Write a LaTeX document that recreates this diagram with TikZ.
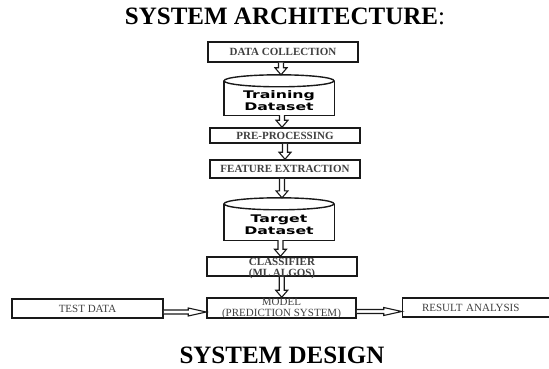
\documentclass[tikz,border=0pt]{standalone}
\usepackage{fontspec}
\setmainfont{Liberation Serif}
\newfontfamily\dbfont[FakeStretch=1.5]{DejaVu Sans Bold}
\usetikzlibrary{calc}

\begin{document}
\begin{tikzpicture}
    [x=1pt,y=-1pt,
     heading/.style={anchor=base,font=\fontsize{25}{30}\selectfont\bfseries},
     box/.style={draw=black!90,line width=1.5pt,inner sep=0pt,minimum width=150pt,
       align=center,text=black!75,font=\fontsize{11}{9.5}\selectfont},
     strong/.style={font=\fontsize{11}{9.5}\selectfont\bfseries},
     dbase/.style={inner sep=0pt,minimum width=110pt,align=center,text=black,
       font=\dbfont\fontsize{10.5}{12}\selectfont},
     dbline/.style={draw=black!90,line width=1.4pt},
     hollow/.style={draw=black!90,line width=1.1pt,fill=white},
     vhollow/.style={to path={let \p1=(\tikztostart), \p2=(\tikztotarget),
       \n1={(\x1+\x2)/2} in
       (\n1-2.5pt,\y1) -- (\n1-2.5pt,\y2+7pt) -- (\n1-6pt,\y2+7pt) -- (\n1,\y2)
       -- (\n1+6pt,\y2+7pt) -- (\n1+2.5pt,\y2+7pt) -- (\n1+2.5pt,\y1)}},
     hhollow/.style={to path={let \p1=(\tikztostart), \p2=(\tikztotarget) in
       (\x1,\y1+2pt) -- (\x2-18pt,\y1+2pt) -- (\x2-18pt,\y1+4pt) -- (\x2,\y1)
       -- (\x2-18pt,\y1-4pt) -- (\x2-18pt,\y1-2pt) -- (\x1,\y1-2pt)}}]
  \useasboundingbox (0,0) rectangle (549,369);

  % headings
  \node[heading] (arch) at (285,25) {SYSTEM ARCHITECTURE\textmd{:}};
  \node[heading] (design) at (282,363) {SYSTEM DESIGN};

  % main column
  \node[box,strong,minimum height=20pt] (collect) at (283,52) {DATA COLLECTION};
  \node[dbase,minimum height=28pt] (train) at (279,101) {Training\\Dataset};
  \node[box,strong,minimum height=15pt] (prep) at (285,135.5) {PRE-PROCESSING};
  \node[box,strong,minimum height=18pt] (feat) at (285,169) {FEATURE EXTRACTION};
  \node[dbase,minimum height=30pt] (target) at (279,225) {Target\\Dataset};
  \node[box,strong,minimum height=19pt] (clf) at (282,266.5)
    {\raisebox{-5pt}[0pt][0pt]{\begin{tabular}{@{}c@{}}CLASSIFIER\\(ML ALGOS)\end{tabular}}};
  \node[box,minimum height=20pt,minimum width=149pt] (model) at (281.5,308)
    {\raisebox{-3.3pt}[0pt][0pt]{\begin{tabular}{@{}c@{}}MODEL\\(PREDICTION SYSTEM)\end{tabular}}};

  % side boxes
  \node[box,minimum height=19pt,minimum width=151pt] (test) at (87.5,308.5) {TEST DATA};
  \node[box,minimum height=19pt,text width=111pt,inner xsep=14pt,align=left]
    (result) at (477.5,307.5) {RESULT ANALYSIS};

  % cylinder outlines
  \foreach \db in {train,target} {
    \draw[dbline] ([yshift=6pt]\db.north west) -- (\db.south west)
      -- (\db.south east) -- ([yshift=6pt]\db.north east);
    \draw[dbline] ([yshift=6pt]\db.north) ellipse [x radius=55pt,y radius=6pt];
    \coordinate (\db-top) at ([yshift=12pt]\db.north);
  }

  % connectors
  \draw[hollow] (collect.south) to[vhollow] (train-top);
  \draw[hollow] (train.south) to[vhollow] (prep.north);
  \draw[hollow] (prep.south) to[vhollow] (feat.north);
  \draw[hollow] (feat.south) to[vhollow] (target-top);
  \draw[hollow] (target.south) to[vhollow] (clf.north);
  \draw[hollow] (clf.south) to[vhollow] (model.north);
  \draw[hollow] ([yshift=-3.5pt]test.east) to[hhollow] ([yshift=-3.5pt]model.west);
  \draw[hollow] ([yshift=-3.5pt]model.east) to[hhollow] ([yshift=-3.5pt]result.west);
\end{tikzpicture}
\end{document}
